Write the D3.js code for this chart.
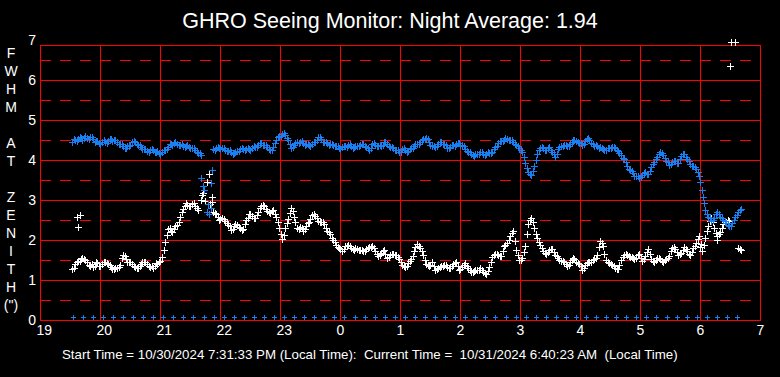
<!DOCTYPE html>
<html>
<head>
<meta charset="utf-8">
<script src="https://cdn.jsdelivr.net/npm/d3@7"></script>
<style>
  body { margin: 0; background: #000; }
  svg { display: block; font-family: Arial, "Liberation Sans", sans-serif; }
</style>
</head>
<body>
<div id="chart"></div>
<script>
var width = 780;
var height = 377;
var padding = { left: 40, right: 20, top: 45, bottom: 57 };
var red = '#ff0000';
var blue = '#1a80f2';

var title = 'GHRO Seeing Monitor: Night Average: 1.94';
var footer = 'Start Time = 10/30/2024 7:31:33 PM (Local Time):  Current Time =  10/31/2024 6:40:23 AM  (Local Time)';
var yLabel = ['F', 'W', 'H', 'M', '', 'A', 'T', '', 'Z', 'E', 'N', 'I', 'T', 'H', '(")'];

var hourTicks = [19, 20, 21, 22, 23, 24, 25, 26, 27, 28, 29, 30, 31];
var hourLabels = ['19', '20', '21', '22', '23', '0', '1', '2', '3', '4', '5', '6', '7'];
var valueTicks = [0, 1, 2, 3, 4, 5, 6, 7];

// samples every 3 minutes from 19:32 (A), and the ones in between (B)
var startHour = 19 + 32 / 60;
var stepHour = 3 / 60;

var blueSeries = [
  4.46, 4.50, 4.52, 4.54, 4.55, 4.56, 4.58, 4.52, 4.47, 4.42,
  4.44, 4.46, 4.48, 4.52, 4.50, 4.44, 4.40, 4.35, 4.30, 4.36,
  4.45, 4.44, 4.38, 4.32, 4.27, 4.22, 4.25, 4.24, 4.20, 4.17,
  4.20, 4.26, 4.33, 4.40, 4.42, 4.41, 4.38, 4.36, 4.35, 4.33,
  4.31, 4.25, 4.18, 4.12, null, null, null, 4.28, 4.30, 4.31,
  4.30, 4.26, 4.23, 4.20, 4.17, 4.22, 4.27, 4.28, 4.27, 4.27,
  4.30, 4.33, 4.38, 4.42, 4.38, 4.33, 4.25, 4.33, 4.50, 4.60,
  4.66, 4.62, 4.50, 4.30, 4.37, 4.44, 4.46, 4.42, 4.40, 4.37,
  4.41, 4.45, 4.58, 4.52, 4.45, 4.42, 4.39, 4.38, 4.34, 4.30,
  4.32, 4.35, 4.37, 4.34, 4.32, 4.35, 4.38, 4.39, 4.32, 4.26,
  4.40, 4.38, 4.34, 4.36, 4.44, 4.40, 4.33, 4.29, 4.24, 4.21,
  4.27, 4.25, 4.22, 4.30, 4.35, 4.40, 4.45, 4.52, 4.56, 4.46,
  4.34, 4.32, 4.40, 4.46, 4.40, 4.30, 4.33, 4.37, 4.40, 4.42,
  4.38, 4.28, 4.20, 4.15, 4.11, 4.16, 4.20, 4.14, 4.16, 4.18,
  4.20, 4.32, 4.42, 4.48, 4.51, 4.52, 4.49, 4.45, 4.38, 4.30,
  4.20, 3.92, 3.70, 3.62, 3.85, 4.15, 4.29, 4.30, 4.24, 4.32,
  4.20, 4.08, 4.27, 4.35, 4.37, 4.34, 4.40, 4.50, 4.47, 4.43,
  4.38, 4.47, 4.54, 4.42, 4.36, 4.35, 4.32, 4.27, 4.25, 4.30,
  4.33, 4.29, 4.22, 4.12, 4.02, 3.85, 3.74, 3.67, 3.60, 3.56,
  3.62, 3.71, 3.64, 3.82, 3.96, 4.08, 4.20, 4.12, 3.98, 3.88,
  3.95, 3.97, 3.92, 4.10, 4.15, 4.02, 3.90, 3.84, 3.78, 3.60,
  3.25, 2.75, 2.58, 2.48, 2.56, 2.70, 2.58, 2.50, 2.42, 2.35,
  2.42, 2.58, 2.70, 2.78
];

var blueSeriesB = [
  4.52, 4.47, 4.57, 4.51, 4.59, 4.53, 4.58, 4.46, 4.48, 4.39,
  4.49, 4.43, 4.53, 4.47, 4.50, 4.39, 4.41, 4.29, 4.36, 4.38,
  4.48, 4.39, 4.37, 4.27, 4.28, 4.21, 4.27, 4.19, 4.22, 4.15,
  4.25, 4.27, 4.39, 4.38, 4.45, 4.37, 4.40, 4.33, 4.37, 4.29,
  4.30, 4.20, 4.17, null, null, null, null, 4.25, 4.33, 4.28,
  4.31, 4.22, 4.24, 4.15, 4.21, 4.22, 4.31, 4.24, 4.30, 4.26,
  4.34, 4.33, 4.43, 4.37, 4.38, 4.27, 4.26, 4.42, 4.57, 4.61,
  4.68, 4.54, 4.40, 4.32, 4.43, 4.42, 4.47, 4.38, 4.41, 4.36,
  4.46, 4.50, 4.57, 4.46, 4.46, 4.38, 4.41, 4.34, 4.34, 4.28,
  4.36, 4.33, 4.39, 4.31, 4.36, 4.34, 4.41, 4.34, 4.30, 4.31,
  4.42, 4.34, 4.37, 4.38, 4.45, 4.35, 4.33, 4.25, 4.25, 4.20,
  4.29, 4.21, 4.27, 4.31, 4.40, 4.41, 4.50, 4.52, 4.53, 4.38,
  4.36, 4.34, 4.45, 4.41, 4.37, 4.29, 4.37, 4.36, 4.43, 4.38,
  4.35, 4.22, 4.19, 4.12, 4.15, 4.16, 4.19, 4.13, 4.19, 4.17,
  4.28, 4.35, 4.47, 4.48, 4.54, 4.49, 4.49, 4.40, 4.36, 4.24,
  4.08, 3.80, 3.66, 3.72, 4.00, 4.24, 4.32, 4.26, 4.29, 4.25,
  4.15, 4.16, 4.33, 4.34, 4.38, 4.36, 4.46, 4.51, 4.44, 4.42,
  4.41, 4.52, 4.49, 4.40, 4.37, 4.31, 4.31, 4.24, 4.29, 4.30,
  4.33, 4.24, 4.18, 4.06, 3.95, 3.78, 3.72, 3.61, 3.59, 3.57,
  3.68, 3.66, 3.72, 3.90, 4.03, 4.16, 4.18, 4.04, 3.94, 3.89,
  3.98, 3.93, 4.02, 4.14, 4.08, 3.98, 3.86, 3.82, 3.70, null,
  null, 2.66, 2.54, 2.50, 2.65, 2.66, 2.55, 2.47, 2.38, 2.36,
  2.50, 2.63, 2.74
];

var whiteSeries = [
  1.27, 1.40, 1.48, 1.52, 1.53, 1.45, 1.36, 1.32, 1.44, 1.36,
  1.40, 1.46, 1.40, 1.32, 1.27, 1.31, 1.38, 1.62, 1.52, 1.44,
  1.39, 1.33, 1.29, 1.40, 1.45, 1.40, 1.33, 1.31, 1.43, 1.44,
  1.58, 1.95, 2.28, 2.22, 2.28, 2.38, 2.58, 2.78, 2.92, 2.86,
  2.90, 2.86, 2.75, null, null, null, null, 2.71, 2.66, 2.50,
  2.54, 2.48, 2.38, 2.26, 2.36, 2.38, 2.30, 2.28, 2.50, 2.64,
  2.60, 2.54, 2.70, 2.85, 2.86, 2.72, 2.67, 2.74, 2.58, 2.30,
  2.02, 2.30, 2.52, 2.80, 2.58, 2.30, 2.33, 2.22, 2.36, 2.44,
  2.62, 2.60, 2.48, 2.44, 2.40, 2.22, 2.16, 2.00, 1.88, 1.80,
  1.72, 1.85, 1.88, 1.80, 1.76, 1.78, 1.74, 1.72, 1.77, 1.83,
  1.86, 1.72, 1.60, 1.68, 1.74, 1.56, 1.62, 1.66, 1.63, 1.52,
  1.38, 1.33, 1.42, 1.52, 1.72, 1.90, 1.80, 1.62, 1.40, 1.34,
  1.45, 1.26, 1.30, 1.34, 1.38, 1.33, 1.29, 1.40, 1.44, 1.24,
  1.32, 1.42, 1.30, 1.21, 1.22, 1.25, 1.29, 1.20, 1.16, 1.32,
  1.58, 1.66, 1.62, 1.60, 1.84, 1.92, 2.10, 2.22, 1.75, 1.50,
  1.55, 1.86, 2.40, 2.54, 2.30, 2.04, 1.87, 1.72, 1.66, 1.75,
  1.78, 1.62, 1.54, 1.48, 1.45, 1.35, 1.44, 1.54, 1.46, 1.40,
  1.26, 1.38, 1.46, 1.45, 1.52, 1.62, 1.98, 1.84, 1.50, 1.42,
  1.38, 1.30, 1.28, 1.50, 1.62, 1.62, 1.58, 1.55, 1.56, 1.66,
  1.48, 1.60, 1.78, 1.52, 1.46, 1.56, 1.52, 1.46, 1.52, 1.60,
  1.80, 1.78, 1.62, 1.68, 1.82, 1.72, 1.62, 1.80, 1.92, 2.10,
  1.72, 2.06, 2.36, 2.56, 2.30, 2.10, 2.20, 2.40, 2.46, 2.48,
  null, null, 1.80, 1.74
];

var whiteSeriesB = [
  1.31, 1.46, 1.47, 1.56, 1.50, 1.38, 1.39, 1.35, 1.42, 1.34,
  1.45, 1.42, 1.38, 1.28, 1.31, 1.33, 1.55, 1.60, 1.46, 1.44,
  1.36, 1.30, 1.34, 1.44, 1.45, 1.36, 1.34, 1.36, 1.41, 1.48,
  1.75, 2.12, 2.30, 2.21, 2.34, 2.46, 2.70, 2.84, 2.88, 2.84,
  2.92, 2.80, null, null, null, null, null, 2.68, 2.58, 2.52,
  2.52, 2.42, 2.34, 2.28, 2.40, 2.33, 2.26, 2.40, 2.56, 2.66,
  2.56, 2.62, 2.80, 2.88, 2.78, 2.70, 2.72, 2.64, 2.45, 2.16,
  2.12, 2.42, 2.68, 2.72, 2.44, 2.28, 2.30, 2.27, 2.42, 2.52,
  2.66, 2.55, 2.45, 2.44, 2.30, 2.20, 2.06, 1.96, 1.82, 1.78,
  1.78, 1.84, 1.86, 1.77, 1.79, 1.75, 1.76, 1.73, 1.81, 1.82,
  1.80, 1.66, 1.62, 1.72, 1.66, 1.58, 1.65, 1.62, 1.58, 1.44,
  1.36, 1.36, 1.48, 1.60, 1.82, 1.86, 1.72, 1.50, 1.38, 1.38,
  1.36, 1.27, 1.33, 1.35, 1.37, 1.30, 1.35, 1.43, 1.34, 1.27,
  1.38, 1.36, 1.25, 1.20, 1.25, 1.26, 1.24, 1.18, 1.22, 1.46,
  1.63, 1.66, 1.59, 1.72, 1.88, 2.00, 2.18, 1.98, 1.62, 1.50,
  1.70, 2.14, 2.50, 2.44, 2.16, 1.95, 1.80, 1.68, 1.70, 1.77,
  1.70, 1.59, 1.50, 1.47, 1.40, 1.38, 1.50, 1.52, 1.42, 1.34,
  1.30, 1.43, 1.44, 1.49, 1.56, 1.82, 1.92, 1.66, 1.46, 1.40,
  1.34, 1.27, 1.38, 1.57, 1.66, 1.59, 1.57, 1.52, 1.62, 1.56,
  1.53, 1.70, 1.66, 1.48, 1.50, 1.55, 1.48, 1.50, 1.55, 1.72,
  1.83, 1.70, 1.64, 1.76, 1.78, 1.66, 1.70, 1.86, 2.02, 1.90,
  1.88, 2.22, 2.48, 2.44, 2.18, 2.14, 2.30, 2.44, 2.50, null,
  null, null, 1.77
];

// stray points off the main bands
var whiteExtraHours = [19.617, 19.633, 19.667, 21.683, 21.700, 21.717, 21.750, 21.783, 21.817, 21.833, 21.867, 21.867, 30.0, 30.283, 30.5, 30.517, 30.583];
var whiteExtraValues = [2.58, 2.32, 2.62, 3.00, 3.12, 3.17, 2.98, 3.45, 3.66, 2.90, 3.08, 2.95, 1.82, 2.00, 6.35, 6.95, 6.95];
var blueExtraHours = [21.683, 21.717, 21.733, 21.783, 21.800, 21.817, 21.850, 21.850, 21.867, 30.0, 30.05, 30.067];
var blueExtraValues = [3.55, 3.35, 3.25, 2.70, 2.90, 2.65, 3.42, 2.80, 3.75, 3.46, 3.08, 2.92];

// small markers along the floor, every 10 minutes
var baseHours = d3.range(19.545, 30.63, (30.617 - 19.545) / 66);
var baseValue = 0.08;

var svg = d3.select('#chart')
  .append('svg')
  .attr('width', width)
  .attr('height', height)
  .style('background', '#000');

var x = d3.scaleLinear().domain([19, 31]).range([padding.left, width - padding.right]);
var y = d3.scaleLinear().domain([0, 7]).range([height - padding.bottom, 40]);

function crisp(v) { return Math.round(v) + 0.5; }

function drawGrid() {
  var g = svg.append('g').attr('shape-rendering', 'crispEdges');

  g.selectAll('.half')
    .data(d3.range(0.5, 7, 1))
    .enter()
    .append('line')
    .attr('x1', x(19)).attr('x2', x(31))
    .attr('y1', function (d) { return crisp(y(d)); })
    .attr('y2', function (d) { return crisp(y(d)); })
    .attr('stroke', red)
    .attr('stroke-dasharray', '11,9');

  g.selectAll('.whole')
    .data(valueTicks.slice(1, 7))
    .enter()
    .append('line')
    .attr('x1', x(19)).attr('x2', x(31))
    .attr('y1', function (d) { return crisp(y(d)); })
    .attr('y2', function (d) { return crisp(y(d)); })
    .attr('stroke', red);

  g.selectAll('.hour')
    .data(hourTicks)
    .enter()
    .append('line')
    .attr('x1', function (d) { return crisp(x(d)); })
    .attr('x2', function (d) { return crisp(x(d)); })
    .attr('y1', padding.top)
    .attr('y2', y(0))
    .attr('stroke', red);

  g.append('line')
    .attr('x1', x(19)).attr('x2', x(31))
    .attr('y1', crisp(padding.top)).attr('y2', crisp(padding.top))
    .attr('stroke', red);
  g.append('line')
    .attr('x1', x(19)).attr('x2', x(31) + 1)
    .attr('y1', crisp(y(0))).attr('y2', crisp(y(0)))
    .attr('stroke', red);
}

function drawAxes() {
  var xAxis = d3.axisBottom(x)
    .tickValues(hourTicks)
    .tickSize(0)
    .tickFormat(function (d, i) { return hourLabels[i]; });

  var gx = svg.append('g')
    .attr('transform', 'translate(0,' + y(0) + ')')
    .call(xAxis);
  gx.select('.domain').remove();
  gx.selectAll('text')
    .attr('fill', '#fff')
    .attr('font-size', '14px')
    .attr('font-family', 'Arial, "Liberation Sans", sans-serif')
    .attr('text-anchor', 'start')
    .attr('dx', -4)
    .attr('y', 15)
    .attr('dy', 0);

  var yAxis = d3.axisLeft(y)
    .tickValues(valueTicks)
    .tickSize(0)
    .tickFormat(d3.format('d'));

  var gy = svg.append('g')
    .attr('transform', 'translate(36,0)')
    .call(yAxis);
  gy.select('.domain').remove();
  gy.selectAll('text')
    .attr('fill', '#fff')
    .attr('font-size', '14px')
    .attr('font-family', 'Arial, "Liberation Sans", sans-serif')
    .attr('x', 0)
    .attr('dy', '0.35em');

  svg.append('g')
    .selectAll('text')
    .data(yLabel)
    .enter()
    .append('text')
    .attr('x', 11)
    .attr('y', function (d, i) { return 53 + i * 18; })
    .attr('dy', '0.35em')
    .attr('text-anchor', 'middle')
    .attr('fill', '#fff')
    .attr('font-size', '14px')
    .text(function (d) { return d; });

  svg.append('text')
    .attr('x', 390)
    .attr('y', 28)
    .attr('text-anchor', 'middle')
    .attr('fill', '#fff')
    .attr('font-size', '21.5px')
    .text(title);

  svg.append('text')
    .attr('x', 62)
    .attr('y', 359)
    .attr('fill', '#fff')
    .attr('font-size', '13.3px')
    .style('white-space', 'pre')
    .text(footer);
}

function drawMarks(hours, values, color, size) {
  var h = size / 2;
  var cross = 'M' + (-h) + ',0H' + h + 'M0,' + (-h) + 'V' + h;
  var pts = values.map(function (v, i) { return { hour: hours[i], value: v }; })
    .filter(function (d) { return d.value != null; });

  svg.append('g')
    .attr('shape-rendering', 'crispEdges')
    .selectAll('path')
    .data(pts)
    .enter()
    .append('path')
    .attr('d', cross)
    .attr('transform', function (d) {
      return 'translate(' + crisp(x(d.hour)) + ',' + crisp(y(d.value)) + ')';
    })
    .attr('fill', 'none')
    .attr('stroke', color)
    .attr('stroke-width', 1);
}

function seriesHours(values, offset) {
  return values.map(function (v, i) { return startHour + offset + i * stepHour; });
}

drawGrid();
drawAxes();
drawMarks(seriesHours(whiteSeries, 0), whiteSeries, '#fff', 7);
drawMarks(seriesHours(whiteSeriesB, stepHour / 2), whiteSeriesB, '#fff', 7);
drawMarks(whiteExtraHours, whiteExtraValues, '#fff', 7);
drawMarks(seriesHours(blueSeries, 0), blueSeries, blue, 7);
drawMarks(seriesHours(blueSeriesB, stepHour / 2), blueSeriesB, blue, 7);
drawMarks(blueExtraHours, blueExtraValues, blue, 7);
drawMarks(baseHours, baseHours.map(function () { return baseValue; }), blue, 5);
</script>
</body>
</html>
